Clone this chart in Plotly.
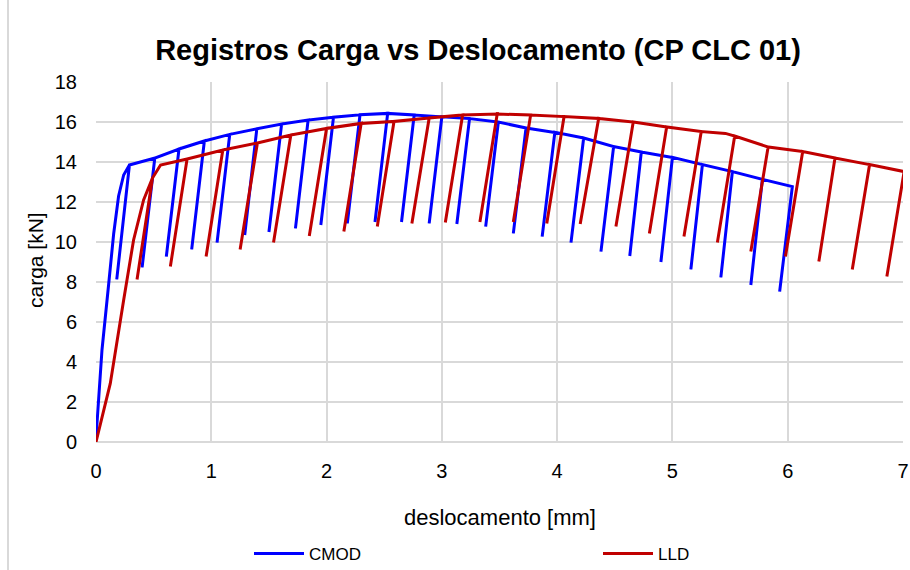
import plotly.graph_objects as go

# ---------------- data ----------------
cmod_load_x = [0.0, 0.052, 0.11, 0.153, 0.196, 0.24]
cmod_load_y = [0.2, 4.6, 7.9, 10.4, 12.3, 13.35]
cmod_peak_x = [0.29, 0.51, 0.72, 0.94, 1.16, 1.395, 1.61, 1.84, 2.06, 2.29, 2.53, 2.76, 3.0,
               3.24, 3.49, 3.73, 3.98, 4.23, 4.49, 4.73, 5.0, 5.26, 5.52, 5.78, 6.04]
cmod_peak_y = [13.85, 14.2, 14.65, 15.05, 15.38, 15.66, 15.9, 16.1, 16.24, 16.36, 16.43, 16.35, 16.26,
               16.17, 16.0, 15.7, 15.48, 15.2, 14.77, 14.5, 14.23, 13.87, 13.52, 13.13, 12.77]
cmod_valley_x = [0.18, 0.40, 0.61, 0.83, 1.05, 1.29, 1.50, 1.73, 1.95, 2.18, 2.42, 2.65, 2.89,
                 3.13, 3.38, 3.62, 3.87, 4.12, 4.38, 4.63, 4.90, 5.16, 5.42, 5.68, 5.93]
cmod_valley_y = [8.13, 8.73, 9.27, 9.63, 9.97, 10.35, 10.5, 10.68, 10.85, 10.93, 11.0, 11.0, 10.93,
                 10.9, 10.77, 10.43, 10.27, 9.97, 9.52, 9.3, 9.0, 8.63, 8.23, 7.85, 7.52]
cmod_extra_x = []
cmod_extra_y = []

lld_load_x = [0.0, 0.124, 0.24, 0.326, 0.413]
lld_load_y = [0.0, 2.93, 7.1, 10.1, 12.1]
lld_peak_x = [0.49, 0.79, 1.10, 1.40, 1.69, 2.0, 2.30, 2.585, 2.89, 3.18, 3.48, 3.77, 4.06,
              4.36, 4.66, 4.95, 5.25, 5.54, 5.83, 6.13, 6.41, 6.71, 7.01]
lld_peak_y = [13.2, 14.15, 14.6, 14.95, 15.35, 15.68, 15.93, 16.03, 16.2, 16.35, 16.4, 16.35, 16.27,
              16.18, 16.0, 15.75, 15.52, 15.3, 14.75, 14.52, 14.2, 13.87, 13.52]
lld_valley_x = [0.356, 0.645, 0.955, 1.25, 1.54, 1.85, 2.15, 2.44, 2.74, 3.03, 3.33, 3.62, 3.91,
                4.20, 4.51, 4.80, 5.10, 5.39, 5.68, 5.98, 6.27, 6.56, 6.86]
lld_valley_y = [8.13, 8.77, 9.27, 9.63, 9.97, 10.3, 10.52, 10.77, 10.93, 10.97, 11.0, 11.0, 10.93,
                10.9, 10.77, 10.43, 10.27, 9.97, 9.52, 9.27, 9.02, 8.63, 8.27]
lld_extra_x = [0.56, 5.46]
lld_extra_y = [13.85, 15.43]

x_ticks = [0, 1, 2, 3, 4, 5, 6, 7]
y_ticks = [0, 2, 4, 6, 8, 10, 12, 14, 16, 18]


def build_path(lx, ly, px, py, vx, vy, ex, ey):
    xs, ys = list(lx), list(ly)
    n = len(px)
    for i in range(n):
        xs += [px[i], vx[i]]
        ys += [py[i], vy[i]]
        if i < n - 1:
            xs.append(px[i])
            ys.append(py[i])
            for a, b in zip(ex, ey):
                if px[i] < a < px[i + 1]:
                    xs.append(a)
                    ys.append(b)
    return xs, ys


cx, cy = build_path(cmod_load_x, cmod_load_y, cmod_peak_x, cmod_peak_y,
                    cmod_valley_x, cmod_valley_y, cmod_extra_x, cmod_extra_y)
lx, ly = build_path(lld_load_x, lld_load_y, lld_peak_x, lld_peak_y,
                    lld_valley_x, lld_valley_y, lld_extra_x, lld_extra_y)

FONT = "Liberation Sans, Arial, sans-serif"
fig = go.Figure()
fig.add_trace(go.Scatter(x=cx, y=cy, mode="lines", name="CMOD", legend="legend",
                         line=dict(color="#0000FF", width=3)))
fig.add_trace(go.Scatter(x=lx, y=ly, mode="lines", name="LLD", legend="legend2",
                         line=dict(color="#C00000", width=3)))

W, H = 910, 570
L, R, T, B = 96, 7, 82, 128
pw, ph = W - L - R, H - T - B

def px2x(p):
    return (p - L) / pw

def py2y(p):
    return (H - B - p) / ph

legend_common = dict(orientation="h", xanchor="left", y=py2y(554), yanchor="middle",
                     font=dict(size=17, family=FONT, color="#000000"),
                     itemwidth=50, bgcolor="rgba(0,0,0,0)")

fig.update_layout(
    width=W, height=H,
    margin=dict(l=L, r=R, t=T, b=B, pad=0, autoexpand=False),
    paper_bgcolor="white", plot_bgcolor="white",
    font=dict(family=FONT, color="#000000"),
    title=dict(text="<b>Registros Carga vs Deslocamento (CP CLC 01)</b>",
               font=dict(size=29, family=FONT, color="#000000"),
               x=478 / W, xanchor="center", xref="container",
               y=1 - 50 / H, yanchor="middle", yref="container"),
    xaxis=dict(range=[0, 7], tickvals=x_ticks, ticktext=[str(v) for v in x_ticks],
               showgrid=True, gridcolor="#D9D9D9", gridwidth=2,
               zeroline=False, showline=False, ticks="",
               tickfont=dict(size=20, family=FONT, color="#000000"),
               ticklabelstandoff=15),
    yaxis=dict(range=[0, 18], tickvals=y_ticks, ticktext=[str(v) for v in y_ticks],
               showgrid=True, gridcolor="#D9D9D9", gridwidth=2,
               zeroline=False, showline=False, ticks="",
               tickfont=dict(size=20, family=FONT, color="#000000"),
               ticklabelstandoff=18),
    showlegend=True,
    legend=dict(x=px2x(249), **legend_common),
    legend2=dict(x=px2x(598), **legend_common),
    annotations=[
        dict(text="deslocamento [mm]", x=px2x(500), y=py2y(517), xref="paper", yref="paper",
             showarrow=False, font=dict(size=22, family=FONT, color="#000000"),
             xanchor="center", yanchor="middle"),
        dict(text="carga [kN]", x=px2x(35), y=py2y(260), xref="paper", yref="paper",
             showarrow=False, textangle=-90, font=dict(size=21, family=FONT, color="#000000"),
             xanchor="center", yanchor="middle"),
    ],
    shapes=[
        dict(type="line", xref="paper", yref="paper", x0=px2x(8), x1=px2x(8),
             y0=py2y(570), y1=py2y(0), line=dict(color="#D9D9D9", width=2)),
        dict(type="line", xref="paper", yref="paper", x0=0, x1=1,
             y0=0, y1=0, line=dict(color="#D9D9D9", width=2), layer="below"),
    ],
)

fig.write_html("out.html")
